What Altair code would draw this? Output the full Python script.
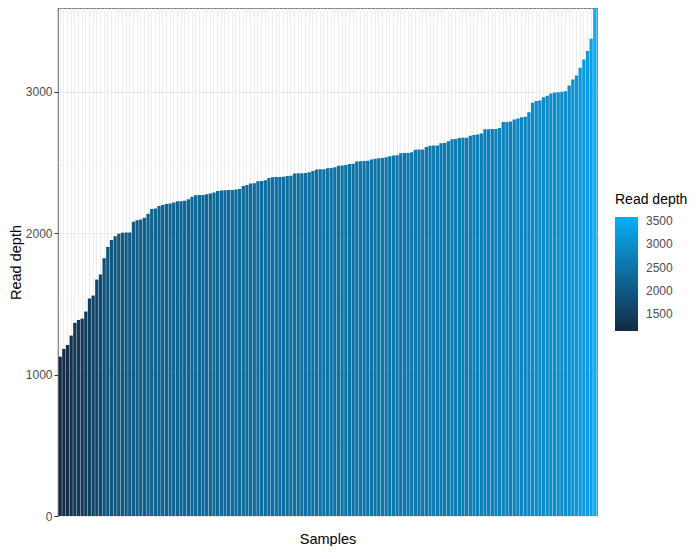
import altair as alt
import pandas as pd

# Read depth per sample (sorted ascending)
read_depth = [
    1127, 1182, 1210, 1276, 1366, 1386, 1396, 1446, 1538, 1559,
    1672, 1708, 1823, 1903, 1952, 1979, 1996, 2003, 2005, 2006,
    2081, 2092, 2097, 2110, 2138, 2172, 2175, 2193, 2200, 2207,
    2210, 2217, 2226, 2227, 2230, 2241, 2258, 2269, 2270, 2271,
    2276, 2281, 2288, 2299, 2303, 2304, 2305, 2306, 2310, 2312,
    2334, 2341, 2352, 2353, 2368, 2369, 2375, 2391, 2396, 2397,
    2398, 2399, 2405, 2406, 2423, 2424, 2425, 2426, 2432, 2441,
    2451, 2452, 2453, 2460, 2461, 2467, 2478, 2479, 2483, 2490,
    2491, 2508, 2509, 2510, 2513, 2522, 2527, 2531, 2532, 2538,
    2545, 2550, 2551, 2566, 2567, 2568, 2572, 2591, 2592, 2593,
    2610, 2619, 2620, 2621, 2637, 2638, 2651, 2665, 2666, 2674,
    2675, 2676, 2690, 2694, 2699, 2706, 2735, 2736, 2737, 2738,
    2745, 2786, 2787, 2790, 2805, 2812, 2821, 2823, 2855, 2922,
    2936, 2938, 2961, 2972, 2989, 2996, 2997, 3000, 3005, 3044,
    3088, 3115, 3170, 3228, 3288, 3375, 3593,
]
samples = [f"S{i:03d}" for i in range(1, len(read_depth) + 1)]

major_breaks = [0, 1000, 2000, 3000]
minor_breaks = [500, 1500, 2500, 3500]
legend_breaks = [1500, 2000, 2500, 3000, 3500]

low_color = "#132B43"
high_color = "#08AEF7"

df = pd.DataFrame({"sample": samples, "depth": read_depth})
minor_df = pd.DataFrame({"depth": minor_breaks})

FONT = "Liberation Sans"
ymax = max(read_depth)
yscale = alt.Scale(domain=[0, ymax], nice=False, zero=True)

yaxis = alt.Axis(
    values=major_breaks,
    format="d",
    grid=True,
    gridColor="#ebebeb",
    gridWidth=1.1,
    domain=False,
    ticks=True,
    tickSize=4,
    tickColor="#333333",
    tickWidth=1,
    labelFontSize=12,
    labelColor="#4d4d4d",
    labelPadding=2,
    titleFontSize=14.5,
    titleColor="#000000",
    titleFontWeight="normal",
    titlePadding=2,
)

minor = alt.Chart(minor_df).mark_rule(color="#f3f3f3", strokeWidth=0.6).encode(
    y=alt.Y("depth:Q", scale=yscale, title="Read depth", axis=yaxis)
)

bars = alt.Chart(df).mark_bar(opacity=1).encode(
    x=alt.X(
        "sample:N",
        sort=None,
        title="Samples",
        scale=alt.Scale(paddingInner=0.1, paddingOuter=0.15),
        axis=alt.Axis(
            labels=False,
            ticks=False,
            domain=False,
            grid=True,
            gridColor="#ededed",
            gridWidth=1,
            bandPosition=0.5,
            titleFontSize=14.5,
            titleColor="#000000",
            titleFontWeight="normal",
            titlePadding=16,
        ),
    ),
    y=alt.Y("depth:Q", scale=yscale, title="Read depth", axis=yaxis),
    color=alt.Color(
        "depth:Q",
        scale=alt.Scale(
            domain=[min(read_depth), max(read_depth)],
            range=[low_color, high_color],
            interpolate="rgb",
        ),
        legend=alt.Legend(
            title="Read depth",
            values=legend_breaks,
            format="d",
            orient="none",
            legendX=557,
            legendY=185,
            gradientLength=114,
            gradientThickness=23,
            gradientStrokeWidth=0,
            titleFontSize=14,
            titleColor="#000000",
            titleFontWeight="normal",
            titlePadding=10,
            labelFontSize=12,
            labelColor="#4d4d4d",
            labelOffset=8,
        ),
    ),
)

chart = (
    alt.layer(minor, bars)
    .properties(
        width=539,
        height=508,
        autosize=alt.AutoSizeParams(type="none"),
        padding={"left": 50, "top": 0, "right": 94, "bottom": 30},
        background="#ffffff",
    )
    .configure_view(stroke="#7a7a7a", strokeWidth=1.2)
    .configure_axis(labelFont=FONT, titleFont=FONT)
    .configure_legend(labelFont=FONT, titleFont=FONT)
)

chart.save("out.html", embed_options={"renderer": "svg", "actions": False})
